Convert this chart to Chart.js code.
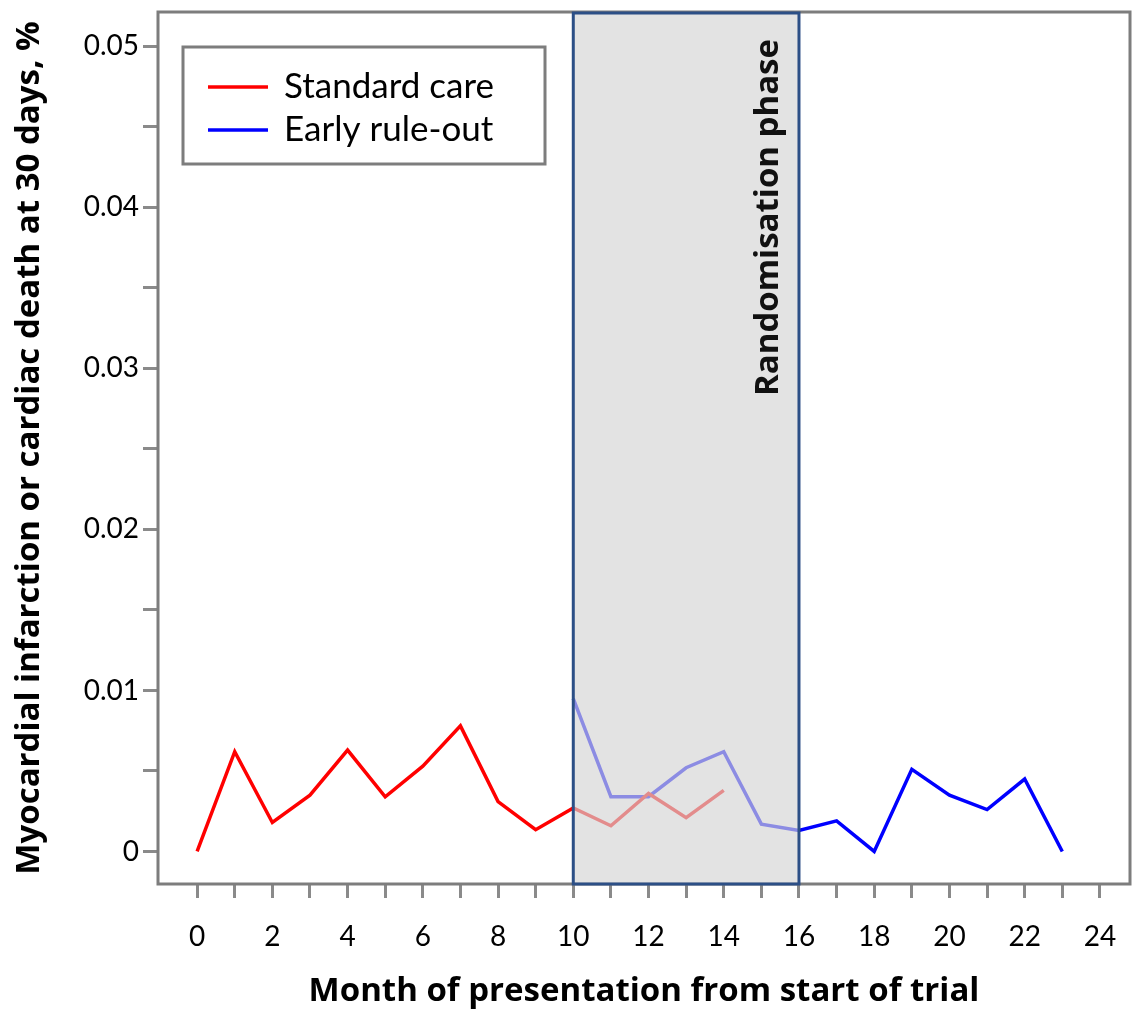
<!DOCTYPE html>
<html>
<head>
<meta charset="utf-8">
<script src="https://cdn.jsdelivr.net/npm/chart.js@4"></script>
<style>
  body { margin: 0; background: #fff; }
  canvas { display: block; }
</style>
</head>
<body>
<canvas id="chart" width="1141" height="1011"></canvas>
<script>
// months and values
const standardMonths = [0, 1, 2, 3, 4, 5, 6, 7, 8, 9, 10, 11, 12, 13, 14];
const standardValues = [0, 0.0062, 0.0018, 0.0035, 0.0063, 0.0034, 0.0053, 0.0078, 0.0031, 0.00135, 0.0027, 0.0016, 0.0036, 0.0021, 0.0038];
const earlyMonths = [10, 11, 12, 13, 14, 15, 16, 17, 18, 19, 20, 21, 22, 23];
const earlyValues = [0.0095, 0.0034, 0.0034, 0.0052, 0.0062, 0.0017, 0.0013, 0.0019, 0, 0.0051, 0.0035, 0.0026, 0.0045, 0];
const seriesLabels = ['Standard care', 'Early rule-out'];
const phaseRange = [10, 16];
const phaseLabel = 'Randomisation phase';
const xTicks = [0, 1, 2, 3, 4, 5, 6, 7, 8, 9, 10, 11, 12, 13, 14, 15, 16, 17, 18, 19, 20, 21, 22, 23, 24];
const yTicks = [0, 0.005, 0.01, 0.015, 0.02, 0.025, 0.03, 0.035, 0.04, 0.045, 0.05];
const yTickLabels = ['0', '', '0.01', '', '0.02', '', '0.03', '', '0.04', '', '0.05'];

const toPoints = (xs, ys) => xs.map((x, i) => ({ x: x, y: ys[i] }));

const frameAndPhase = {
    id: 'frameAndPhase',
    beforeDatasetsDraw(chart) {
        const { ctx, chartArea: a } = chart;
        ctx.save();
        ctx.strokeStyle = '#7d7d7d';
        ctx.lineWidth = 3;
        ctx.strokeRect(a.left, a.top, a.right - a.left, a.bottom - a.top);
        ctx.restore();
    },
    afterDatasetsDraw(chart) {
        const { ctx, chartArea: a, scales } = chart;
        const x1 = scales.x.getPixelForValue(phaseRange[0]);
        const x2 = scales.x.getPixelForValue(phaseRange[1]);
        ctx.save();
        // grey box laid over the lines, so they look faded inside it
        ctx.fillStyle = 'rgba(212,212,212,0.66)';
        ctx.fillRect(x1, a.top, x2 - x1, a.bottom - a.top);
        ctx.strokeStyle = '#2c4f86';
        ctx.lineWidth = 3;
        ctx.strokeRect(x1, a.top + 1, x2 - x1, a.bottom - a.top - 1);

        ctx.translate(x2 - 30, a.top + 27);
        ctx.rotate(-Math.PI / 2);
        ctx.fillStyle = '#111';
        ctx.font = 'bold 33px "Open Sans"';
        ctx.textAlign = 'right';
        ctx.textBaseline = 'middle';
        ctx.fillText(phaseLabel, 0, 0);
        ctx.restore();

        // legend box
        ctx.save();
        const lx = a.left + 25, ly = a.top + 35;
        ctx.fillStyle = '#fff';
        ctx.fillRect(lx, ly, 362, 117);
        ctx.strokeStyle = '#7d7d7d';
        ctx.lineWidth = 3;
        ctx.strokeRect(lx, ly, 362, 117);
        ctx.font = '35px Lato';
        ctx.textBaseline = 'middle';
        chart.data.datasets.forEach((ds, i) => {
            const y = ly + 40 + i * 43;
            ctx.strokeStyle = ds.borderColor;
            ctx.lineWidth = 3.5;
            ctx.beginPath();
            ctx.moveTo(lx + 25, y);
            ctx.lineTo(lx + 85, y);
            ctx.stroke();
            ctx.fillStyle = '#000';
            ctx.fillText(ds.label, lx + 101, y);
        });
        ctx.restore();
    }
};

new Chart(document.getElementById('chart'), {
    type: 'line',
    data: {
        datasets: [{
            label: seriesLabels[0],
            data: toPoints(standardMonths, standardValues),
            borderColor: '#ff0000',
            borderWidth: 3.5,
            pointRadius: 0,
            tension: 0
        }, {
            label: seriesLabels[1],
            data: toPoints(earlyMonths, earlyValues),
            borderColor: '#0000ff',
            borderWidth: 3.5,
            pointRadius: 0,
            tension: 0
        }]
    },
    options: {
        responsive: false,
        animation: false,
        layout: { padding: { top: 12, right: 11, left: 0, bottom: 0 } },
        plugins: {
            legend: { display: false },
            tooltip: { enabled: false }
        },
        scales: {
            x: {
                type: 'linear',
                min: -1.04,
                max: 24.8,
                afterBuildTicks: s => { s.ticks = xTicks.map(v => ({ value: v })); },
                afterFit: s => { s.height = 127; s.paddingLeft = 0; s.paddingRight = 0; },
                ticks: {
                    autoSkip: false,
                    maxRotation: 0,
                    padding: 22,
                    color: '#000',
                    font: { family: 'Lato', size: 28 },
                    callback: v => (v % 2 === 0 ? String(v) : '')
                },
                grid: {
                    drawOnChartArea: false,
                    tickLength: 14,
                    tickColor: '#8a8a8a',
                    tickWidth: 3
                },
                border: { display: false },
                title: {
                    display: true,
                    text: 'Month of presentation from start of trial',
                    color: '#000',
                    font: { family: 'Open Sans', size: 33, weight: 'bold' },
                    padding: { top: 8, bottom: 0 }
                }
            },
            y: {
                min: -0.00202,
                max: 0.05214,
                afterBuildTicks: s => { s.ticks = yTicks.map(v => ({ value: v })); },
                afterFit: s => { s.width = 158; s.paddingTop = 0; s.paddingBottom = 0; },
                ticks: {
                    autoSkip: false,
                    padding: 4,
                    color: '#000',
                    font: { family: 'Lato', size: 28 },
                    callback: (v, i) => yTickLabels[i]
                },
                grid: {
                    drawOnChartArea: false,
                    tickLength: 15,
                    tickColor: '#8a8a8a',
                    tickWidth: 3
                },
                border: { display: false },
                title: {
                    display: true,
                    text: 'Myocardial infarction or cardiac death at 30 days, %',
                    color: '#000',
                    font: { family: 'Open Sans', size: 33, weight: 'bold' },
                    padding: { top: 10, bottom: 0 }
                }
            }
        }
    },
    plugins: [frameAndPhase]
});
</script>
</body>
</html>
